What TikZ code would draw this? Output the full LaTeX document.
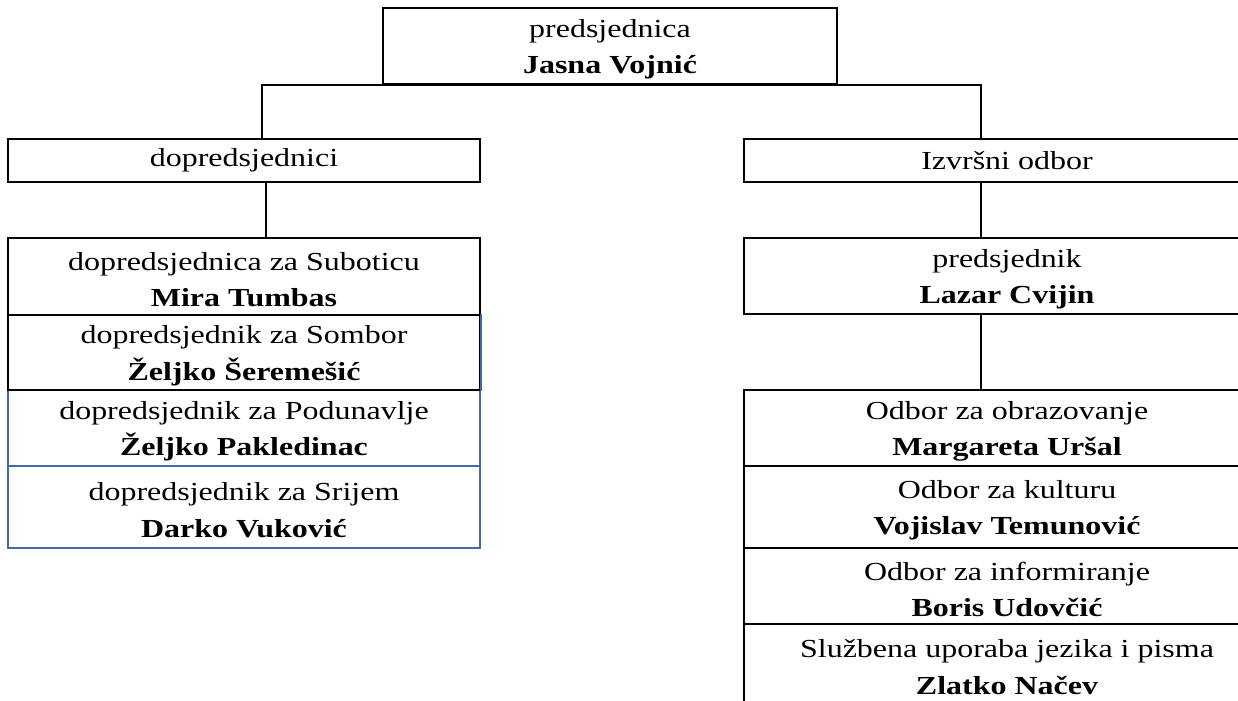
\documentclass[tikz,border=0pt]{standalone}
\usepackage{fontspec}
\setmainfont{Liberation Serif}[FakeStretch=1.23]
\definecolor{okvirplavi}{RGB}{65,105,165}
% redak teksta malo spusten, a okvir ostaje isti
\newcommand{\redak}[1]{\raisebox{-2.5pt}[\height][\depth]{#1}}

\begin{document}
\begin{tikzpicture}[x=0.75pt, y=0.75pt]
        \tikzstyle{every node}+=[inner sep=0pt]
        \tikzstyle{kutija}=[draw=black, line width=1.5pt, rectangle, align=center, font=\fontsize{19.5}{27.4}\selectfont]
        \tikzstyle{plavi}=[kutija, draw=okvirplavi]
        \tikzstyle{lstup}=[minimum width=354pt]
        \tikzstyle{dstup}=[minimum width=394.5pt]
        \tikzstyle{veza}=[black, line width=1.5pt]
        \useasboundingbox (0,0) rectangle (1238,-700);
        % vrh
        \node [kutija, minimum width=340.5pt, minimum height=57pt] (pred) at (610,-46) {\redak{predsjednica}\\\redak{\textbf{Jasna Vojnić}}};
        \node [kutija, lstup, minimum height=32.25pt] (dop) at (244,-160.5) {dopredsjednici};
        \node [kutija, dstup, minimum height=32.25pt] (izv) at (1007,-160.5) {Izvršni odbor};
        % lijevi stupac
        \node [plavi, lstup, minimum height=61.5pt] (srijem) at (244,-507) {\redak{dopredsjednik za Srijem}\\\redak{\textbf{Darko Vuković}}};
        \node [plavi, lstup, minimum height=57pt] (podunavlje) at (244,-428) {\redak{dopredsjednik za Podunavlje}\\\redak{\textbf{Željko Pakledinac}}};
        \node [kutija, lstup, minimum height=57.75pt] (subotica) at (244,-276.5) {\redak{dopredsjednica za Suboticu}\\\redak{\textbf{Mira Tumbas}}};
        \node [kutija, lstup, minimum height=56.25pt] (sombor) at (244,-352.5) {\redak{dopredsjednik za Sombor}\\\redak{\textbf{Željko Šeremešić}}};
        \draw [okvirplavi, line width=1.5pt] (sombor.north east) -- (sombor.south east);
        % desni stupac
        \node [kutija, dstup, minimum height=57pt] (predsjednik) at (1007,-276) {\redak{predsjednik}\\\redak{\textbf{Lazar Cvijin}}};
        \node [kutija, dstup, minimum height=57pt] (obrazovanje) at (1007,-428) {\redak{Odbor za obrazovanje}\\\redak{\textbf{Margareta Uršal}}};
        \node [kutija, dstup, minimum height=61.5pt] (kultura) at (1007,-507) {\redak{Odbor za kulturu}\\\redak{\textbf{Vojislav Temunović}}};
        \node [kutija, dstup, minimum height=57pt] (informiranje) at (1007,-586) {\redak{Odbor za informiranje}\\\redak{\textbf{Boris Udovčić}}};
        \node [kutija, dstup, minimum height=60pt] (jezik) at (1007,-664) {\redak{Službena uporaba jezika i pisma}\\\redak{\textbf{Zlatko Načev}}};
        % veze
        \draw [veza] (pred.south) -| ([xshift=13.5pt]dop.north);
        \draw [veza] (pred.south) -| ([xshift=-19.5pt]izv.north);
        \draw [veza] ([xshift=16.5pt]dop.south) -- ([xshift=16.5pt]subotica.north);
        \draw [veza] ([xshift=-19.5pt]izv.south) -- ([xshift=-19.5pt]predsjednik.north);
        \draw [veza] ([xshift=-19.5pt]predsjednik.south) -- ([xshift=-19.5pt]obrazovanje.north);
\end{tikzpicture}
\end{document}
